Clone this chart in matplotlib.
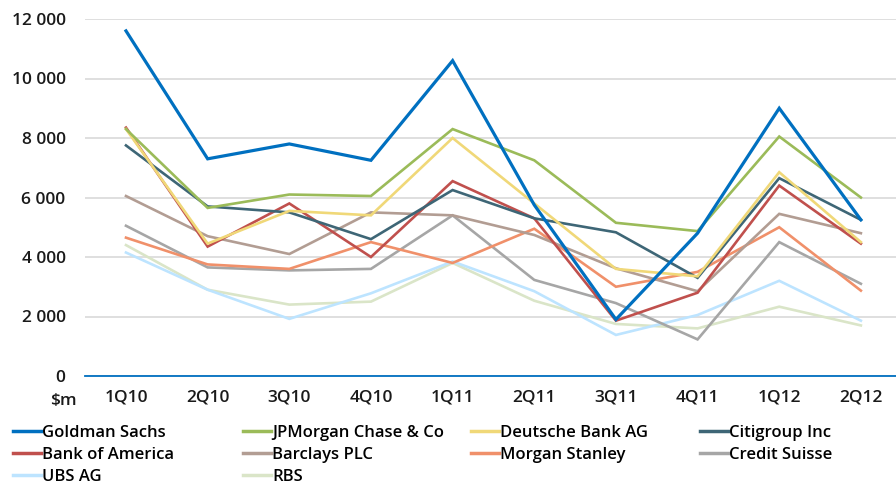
import matplotlib.pyplot as plt
from matplotlib.ticker import FuncFormatter
from matplotlib.lines import Line2D

quarters = ['1Q10', '2Q10', '3Q10', '4Q10', '1Q11', '2Q11', '3Q11', '4Q11', '1Q12', '2Q12']

goldman = [11600, 7300, 7800, 7250, 10600, 5750, 1900, 4800, 9000, 5250]
jpmorgan = [8300, 5650, 6100, 6050, 8300, 7250, 5150, 4870, 8050, 6000]
deutsche = [8300, 4450, 5550, 5400, 8000, 5800, 3600, 3350, 6850, 4500]
citi = [7750, 5700, 5500, 4600, 6250, 5300, 4830, 3300, 6650, 5250]
bofa = [8350, 4350, 5800, 4000, 6550, 5300, 1860, 2800, 6400, 4450]
barclays = [6050, 4700, 4100, 5500, 5400, 4740, 3620, 2850, 5450, 4800]
morgan = [4650, 3750, 3600, 4500, 3800, 4950, 3000, 3500, 5000, 2870]
credit_suisse = [5050, 3650, 3550, 3600, 5400, 3230, 2450, 1230, 4500, 3100]
ubs = [4150, 2900, 1920, 2780, 3850, 2850, 1380, 2050, 3200, 1860]
rbs = [4400, 2900, 2400, 2500, 3800, 2530, 1750, 1600, 2330, 1700]

names = ['Goldman Sachs', 'JPMorgan Chase & Co', 'Deutsche Bank AG', 'Citigroup Inc',
         'Bank of America', 'Barclays PLC', 'Morgan Stanley', 'Credit Suisse',
         'UBS AG', 'RBS']
series = [goldman, jpmorgan, deutsche, citi, bofa, barclays, morgan, credit_suisse, ubs, rbs]
colors = ['#0070C0', '#9BBB59', '#F0D878', '#3E6676', '#C0504D', '#B29D93',
          '#F0906A', '#A6A6A6', '#BDE4FF', '#DAE5C8']

FONT = ['Open Sans', 'DejaVu Sans']

fig = plt.figure(figsize=(8.96, 4.87), dpi=100)
ax = fig.add_axes([85 / 896, 1 - 376 / 487, 1 - 85 / 896, (376 - 19) / 487])

x = range(len(quarters))
# draw back to front so Goldman ends on top
for vals, col, name in reversed(list(zip(series, colors, names))):
    lw = 2.3 if name == 'Goldman Sachs' else 1.9
    ax.plot(x, vals, color=col, lw=lw, solid_joinstyle='miter', zorder=3)

ax.set_xlim(-0.502, 9.43)
ax.set_ylim(0, 12000)
ax.set_yticks(range(0, 12001, 2000))
ax.yaxis.set_major_formatter(FuncFormatter(lambda v, p: f'{int(v):,}'.replace(',', ' ')))
ax.set_xticks(list(x))
ax.set_xticklabels(quarters)
ax.grid(axis='y', color='#D9D9D9', lw=1.2, zorder=0)
ax.set_axisbelow(True)
for s in ['top', 'right', 'left']:
    ax.spines[s].set_visible(False)
ax.spines['bottom'].set_color('#0070C0')
ax.spines['bottom'].set_linewidth(1.3)
ax.tick_params(length=0)
ax.tick_params(axis='y', pad=14)
ax.tick_params(axis='x', pad=10)
for lab in ax.get_xticklabels() + ax.get_yticklabels():
    lab.set_family(FONT)
    lab.set_fontweight('semibold')
    lab.set_fontsize(12.5)
    lab.set_color('#1a1a1a')

fig.text(77 / 896, 1 - 401 / 487, '$m', ha='right', va='center', family=FONT,
         fontweight='semibold', fontsize=12.5, color='#1a1a1a')

# legend: one small legend per column so columns sit where the reference has them
col_x = [13, 243, 471, 700]
for c in range(4):
    idx = [i for i in range(len(names)) if i % 4 == c]
    handles = [Line2D([], [], color=colors[i], lw=2.5) for i in idx]
    fig.legend(handles, [names[i] for i in idx], loc='upper left',
               bbox_to_anchor=(col_x[c] / 896, 1 - 425 / 487), frameon=False,
               prop={'family': FONT, 'size': 12, 'weight': 'semibold'},
               handlelength=1.65, handletextpad=0.1, labelspacing=0.36,
               borderaxespad=0, borderpad=0)

fig.savefig('out.png', dpi=100)
